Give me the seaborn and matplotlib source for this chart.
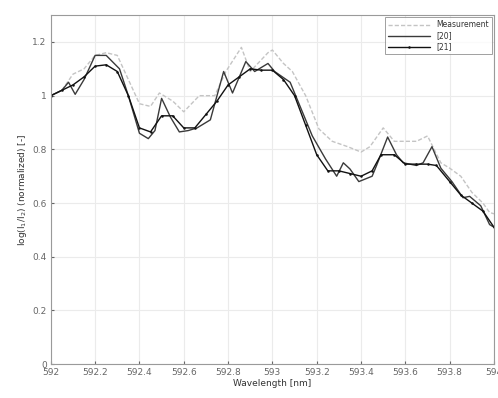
import matplotlib
matplotlib.use("Agg")
import matplotlib.pyplot as plt
import seaborn as sns
import pandas as pd
import numpy as np

# Measurement (gray dashed)
meas_x = [592.00, 592.05, 592.10, 592.15, 592.20, 592.25, 592.30, 592.35, 592.40, 592.45,
          592.49, 592.55, 592.60, 592.67, 592.74, 592.79, 592.86, 592.90, 592.98, 593.00,
          593.05, 593.09, 593.15, 593.21, 593.27, 593.34, 593.40, 593.44, 593.50, 593.55,
          593.60, 593.65, 593.70, 593.76, 593.80, 593.85, 593.90, 593.95, 593.98, 594.00]
meas_y = [1.00, 1.02, 1.08, 1.10, 1.15, 1.16, 1.15, 1.06, 0.97, 0.96,
          1.01, 0.98, 0.94, 1.00, 1.00, 1.09, 1.18, 1.09, 1.16, 1.17,
          1.12, 1.09, 1.00, 0.876, 0.83, 0.81, 0.79, 0.81, 0.88, 0.83,
          0.83, 0.83, 0.85, 0.75, 0.73, 0.70, 0.64, 0.60, 0.565, 0.56]

# [20] (solid)
r20_x = [592.00, 592.05, 592.08, 592.11, 592.15, 592.20, 592.25, 592.31, 592.35, 592.40,
         592.44, 592.47, 592.50, 592.54, 592.58, 592.62, 592.66, 592.72, 592.78, 592.82,
         592.88, 592.92, 592.98, 593.01, 593.08, 593.18, 593.24, 593.29, 593.32, 593.35,
         593.39, 593.45, 593.47, 593.52, 593.56, 593.59, 593.65, 593.68, 593.72, 593.76,
         593.81, 593.86, 593.89, 593.94, 593.98, 594.00]
r20_y = [1.00, 1.02, 1.05, 1.005, 1.06, 1.15, 1.15, 1.10, 1.00, 0.86,
         0.84, 0.87, 0.99, 0.92, 0.865, 0.87, 0.88, 0.91, 1.09, 1.01,
         1.127, 1.09, 1.12, 1.09, 1.05, 0.85, 0.764, 0.70, 0.75, 0.727,
         0.68, 0.70, 0.74, 0.846, 0.78, 0.75, 0.74, 0.75, 0.81, 0.73,
         0.68, 0.62, 0.625, 0.59, 0.52, 0.51]

# [21] (solid with dots)
r21_x = [592.00, 592.05, 592.10, 592.15, 592.20, 592.25, 592.30, 592.35, 592.40, 592.45,
         592.50, 592.55, 592.60, 592.65, 592.70, 592.75, 592.80, 592.85, 592.90, 592.95,
         593.00, 593.05, 593.10, 593.15, 593.20, 593.25, 593.30, 593.35, 593.40, 593.45,
         593.49, 593.55, 593.60, 593.65, 593.70, 593.74, 593.80, 593.85, 593.90, 593.95,
         594.00]
r21_y = [1.00, 1.02, 1.04, 1.07, 1.11, 1.115, 1.09, 1.00, 0.88, 0.865,
         0.925, 0.925, 0.88, 0.88, 0.93, 0.98, 1.04, 1.07, 1.10, 1.095,
         1.095, 1.06, 1.00, 0.89, 0.78, 0.72, 0.72, 0.71, 0.70, 0.72,
         0.78, 0.78, 0.745, 0.745, 0.745, 0.74, 0.68, 0.63, 0.60, 0.57,
         0.51]

x_ticks = [592, 592.2, 592.4, 592.6, 592.8, 593, 593.2, 593.4, 593.6, 593.8, 594]
x_ticklabels = ["592", "592.2", "592.4", "592.6", "592.8", "593", "593.2", "593.4", "593.6", "593.8", "594"]
y_ticks = [0, 0.2, 0.4, 0.6, 0.8, 1, 1.2]
y_ticklabels = ["0", "0.2", "0.4", "0.6", "0.8", "1", "1.2"]

df = pd.concat([
    pd.DataFrame({"x": meas_x, "y": meas_y, "s": "Measurement"}),
    pd.DataFrame({"x": r20_x, "y": r20_y, "s": "[20]"}),
    pd.DataFrame({"x": r21_x, "y": r21_y, "s": "[21]"}),
], ignore_index=True)

sns.set_style("whitegrid", {"grid.color": "#ebebeb", "axes.edgecolor": "#9a9a9a"})
plt.rcParams["font.family"] = ["DejaVu Sans"]

fig = plt.figure(figsize=(4.98, 3.98), dpi=100)
ax = fig.add_axes([0.102, 0.085, 0.89, 0.877])

sns.lineplot(data=df[df.s == "Measurement"], x="x", y="y", ax=ax, color="#c4c4c4",
             lw=1.0, dashes=False, linestyle=(0, (3, 1.5)), label="Measurement", sort=False)
sns.lineplot(data=df[df.s == "[20]"], x="x", y="y", ax=ax, color="#3a3a3a",
             lw=1.0, label="[20]", sort=False)
sns.lineplot(data=df[df.s == "[21]"], x="x", y="y", ax=ax, color="#111111",
             lw=1.0, marker="o", markersize=1.8, markeredgewidth=0, label="[21]", sort=False)

ax.set_xlim(592, 594)
ax.set_ylim(0, 1.3)
ax.set_xticks(x_ticks)
ax.set_xticklabels(x_ticklabels)
ax.set_yticks(y_ticks)
ax.set_yticklabels(y_ticklabels)
ax.tick_params(labelsize=6.5, colors="#666666", length=2, direction="in", pad=3)
ax.tick_params(axis="both", which="both", left=True, bottom=True)
ax.set_xlabel("Wavelength [nm]", fontsize=6.5, color="#333333", labelpad=1)
ax.set_ylabel(r"log(I$_1$/I$_2$) (normalized) [-]", fontsize=6.5, color="#333333", labelpad=2)
for sp in ax.spines.values():
    sp.set_linewidth(0.8)
    sp.set_color("#9a9a9a")

leg = ax.legend(loc="upper right", fontsize=5.5, frameon=True, fancybox=False,
                borderaxespad=0.3, handlelength=5.5, labelspacing=0.25,
                borderpad=0.4)
leg.get_frame().set_edgecolor("#888888")
leg.get_frame().set_linewidth(0.7)
for t in leg.get_texts():
    t.set_color("#333333")

fig.savefig("out.png", dpi=100)
